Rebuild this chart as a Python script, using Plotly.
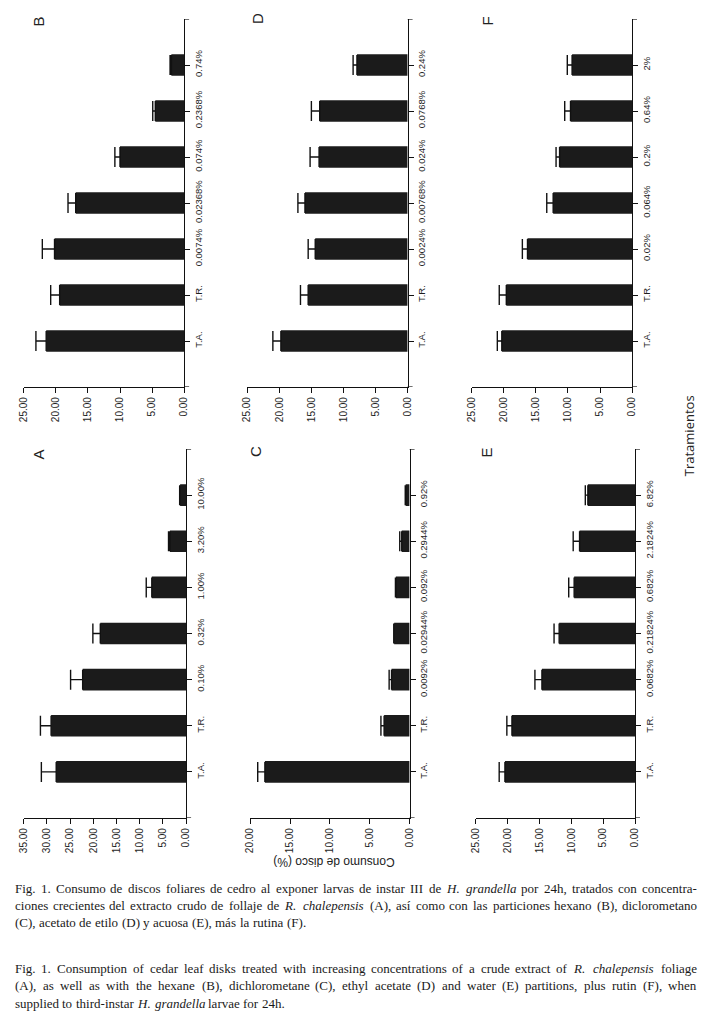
import plotly.graph_objects as go

W, H = 708, 1022

# ---------------- data ----------------
cats_A = ["T.A.", "T.R.", "0.10%", "0.32%", "1.00%", "3.20%", "10.00%"]
vals_A = [28.0, 29.1, 22.3, 18.5, 7.4, 3.5, 1.3]
err_A = [3.2, 2.3, 2.6, 1.6, 1.2, 0.3, 0.1]

cats_B = ["T.A.", "T.R.", "0.0074%", "0.02368%", "0.074%", "0.2368%", "0.74%"]
vals_B = [21.5, 19.4, 20.2, 16.9, 10.0, 4.5, 2.0]
err_B = [1.6, 1.4, 1.9, 1.2, 0.8, 0.4, 0.2]

cats_C = ["T.A.", "T.R.", "0.0092%", "0.02944%", "0.092%", "0.2944%", "0.92%"]
vals_C = [18.15, 3.2, 2.27, 1.94, 1.73, 0.99, 0.5]
err_C = [0.9, 0.4, 0.3, 0.05, 0.05, 0.25, 0.05]

cats_D = ["T.A.", "T.R.", "0.0024%", "0.00768%", "0.024%", "0.0768%", "0.24%"]
vals_D = [19.75, 15.5, 14.4, 16.0, 13.8, 13.7, 7.9]
err_D = [1.25, 1.2, 1.1, 1.1, 1.4, 1.3, 0.6]

cats_E = ["T.A.", "T.R.", "0.0682%", "0.21824%", "0.682%", "2.1824%", "6.82%"]
vals_E = [20.4, 19.3, 14.6, 11.9, 9.55, 8.7, 7.4]
err_E = [0.9, 0.8, 1.1, 0.8, 0.85, 1.0, 0.4]

cats_F = ["T.A.", "T.R.", "0.02%", "0.064%", "0.2%", "0.64%", "2%"]
vals_F = [20.3, 19.6, 16.3, 12.3, 11.3, 9.6, 9.35]
err_F = [0.7, 1.1, 0.8, 1.0, 0.55, 0.9, 0.75]

value_ticks_35 = [0, 5, 10, 15, 20, 25, 30, 35]
value_ticks_25 = [0, 5, 10, 15, 20, 25]
value_ticks_20 = [0, 5, 10, 15, 20]

# panel: letter, cats, vals, errs, ticks, pixel box (x_left, x_right, y_top, y_bottom)
panels = [
    ("A", cats_A, vals_A, err_A, value_ticks_35, (18, 183, 449, 818)),
    ("B", cats_B, vals_B, err_B, value_ticks_25, (18, 181, 19, 387)),
    ("C", cats_C, vals_C, err_C, value_ticks_20, (248, 410, 449, 818)),
    ("D", cats_D, vals_D, err_D, value_ticks_25, (245, 408, 19, 387)),
    ("E", cats_E, vals_E, err_E, value_ticks_25, (477, 639, 449, 818)),
    ("F", cats_F, vals_F, err_F, value_ticks_25, (473, 636, 19, 387)),
]
letter_pos = {"A": (33, 454), "B": (34, 21), "C": (253, 452),
              "D": (255, 19), "E": (488, 452), "F": (490, 21)}

SANS = "Liberation Sans, Arial, sans-serif"
SERIF = "Liberation Serif, Times New Roman, serif"

fig = go.Figure()
layout = dict(width=W, height=H, margin=dict(l=0, r=0, t=0, b=0),
              paper_bgcolor="white", plot_bgcolor="white", showlegend=False)
annotations = []
shapes = []

for i, (letter, cats, vals, errs, ticks, box) in enumerate(panels, start=1):
    xl, xr, yt, yb = box
    xa = "x" if i == 1 else f"x{i}"
    ya = "y" if i == 1 else f"y{i}"
    fig.add_trace(go.Bar(
        x=vals, y=cats, orientation="h", xaxis=xa, yaxis=ya,
        marker=dict(color="#1b1b1b", line=dict(width=0)),
        width=0.47,
        error_x=dict(type="data", symmetric=False, array=errs,
                     arrayminus=[0] * len(errs), color="#111111",
                     thickness=1.4, width=10),
    ))
    layout[f"xaxis{'' if i == 1 else i}"] = dict(
        domain=[xl / W, xr / W], anchor=ya, range=[ticks[-1], 0],
        showline=True, linecolor="#111111", linewidth=1.3,
        ticks="outside", ticklen=5, tickwidth=1.2, tickcolor="#111111",
        tickmode="array", tickvals=ticks, tickformat=".2f",
        tickangle=-90, tickfont=dict(family=SANS, size=10, color="#1e1e1e"),
        showgrid=False, zeroline=False, fixedrange=True,
    )
    layout[f"yaxis{'' if i == 1 else i}"] = dict(
        domain=[1 - yb / H, 1 - yt / H], anchor=xa, side="right",
        type="category", categoryorder="array", categoryarray=cats,
        range=[-1, 7],
        showline=True, linecolor="#111111", linewidth=1.3,
        ticks="outside", ticklen=5, tickwidth=1.2, tickcolor="#111111",
        tickangle=-90, tickfont=dict(family=SANS, size=9.5, color="#1e1e1e"),
        showgrid=False, zeroline=False, fixedrange=True,
    )
    # end ticks of the category axis
    for yv in (-1, 7):
        shapes.append(dict(type="line", xref=f"{xa} domain", yref=ya,
                           x0=1, x1=1 + 5 / (xr - xl), y0=yv, y1=yv,
                           line=dict(color="#111111", width=1.2)))
    lx, ly = letter_pos[letter]
    annotations.append(dict(text=letter, x=lx / W, y=1 - ly / H,
                            xref="paper", yref="paper", showarrow=False,
                            xanchor="center", yanchor="middle",
                            textangle=-90, font=dict(family=SANS, size=15, color="#222")))

annotations.append(dict(text="Tratamientos", x=694 / W, y=1 - 436 / H,
                        xref="paper", yref="paper", showarrow=False, textangle=-90,
                        xanchor="center", yanchor="middle",
                        font=dict(family="Open Sans, sans-serif", size=13, color="#222")))
annotations.append(dict(text="Consumo de disco (%)", x=333 / W, y=1 - 862 / H,
                        xref="paper", yref="paper", showarrow=False, textangle=180,
                        xanchor="center", yanchor="middle",
                        font=dict(family=SANS, size=12, color="#222")))

# ---------------- caption (justified, Times metrics) ----------------
TW = {' ': 250, '.': 250, ',': 250, '(': 333, ')': 333, '-': 333, '%': 833, ':': 278,
      'a': 444, 'b': 500, 'c': 444, 'd': 500, 'e': 444, 'f': 333, 'g': 500, 'h': 500,
      'i': 278, 'j': 278, 'k': 500, 'l': 278, 'm': 778, 'n': 500, 'o': 500, 'p': 500,
      'q': 500, 'r': 333, 's': 389, 't': 278, 'u': 500, 'v': 500, 'w': 722, 'x': 500,
      'y': 500, 'z': 444, 'á': 444, 'í': 278,
      'A': 722, 'B': 667, 'C': 667, 'D': 722, 'E': 611, 'F': 556, 'G': 722, 'H': 722,
      'I': 333, 'J': 389, 'K': 722, 'L': 611, 'M': 889, 'N': 722, 'O': 722, 'P': 556,
      'Q': 722, 'R': 667, 'S': 556, 'T': 611, 'U': 722, 'V': 722, 'W': 944, 'X': 722,
      'Y': 722, 'Z': 611}
CAP_SIZE = 13
CAP_LEFT, CAP_RIGHT = 9, 701


def tw(s):
    return sum(TW.get(c, 500) for c in s) / 1000 * CAP_SIZE


caption_lines = [
    ("Fig. 1. Consumo de discos foliares de cedro al exponer larvas de instar III de *H. *grandella por 24h, tratados con concentra-", True, 888),
    ("ciones crecientes del extracto crudo de follaje de *R. *chalepensis (A), así como con las particiones hexano (B), diclorometano", True, 905),
    ("(C), acetato de etilo (D) y acuosa (E), más la rutina (F).", False, 922),
    ("Fig. 1. Consumption of cedar leaf disks treated with increasing concentrations of a crude extract of *R. *chalepensis foliage", True, 968),
    ("(A), as well as with the hexane (B), dichlorometane (C), ethyl acetate (D) and water (E) partitions, plus rutin (F), when", True, 985),
    ("supplied to third-instar *H. *grandella larvae for 24h.", False, 1003),
]

for text, justify, ypix in caption_lines:
    words = text.split(" ")
    italics = [w.startswith("*") for w in words]
    words = [w.strip("*") for w in words]
    widths = [tw(w) + (2.0 if it else 0.0) for w, it in zip(words, italics)]
    if justify and len(words) > 1:
        gap = (CAP_RIGHT - CAP_LEFT - sum(widths)) / (len(words) - 1)
    else:
        gap = 0.3 * CAP_SIZE
    x = CAP_LEFT
    for w, it, wd in zip(words, italics, widths):
        annotations.append(dict(text=f"<i>{w}</i>" if it else w, x=x / W, y=1 - ypix / H,
                                xref="paper", yref="paper", xanchor="left", yanchor="middle",
                                showarrow=False, borderpad=0, borderwidth=0,
                                font=dict(family=SERIF, size=CAP_SIZE, color="#1a1a1a")))
        x += wd + gap

layout["annotations"] = annotations
layout["shapes"] = shapes
fig.update_layout(**layout)
fig.write_html("out.html", config={"displayModeBar": False},
               post_script="document.body.style.margin='0';")
